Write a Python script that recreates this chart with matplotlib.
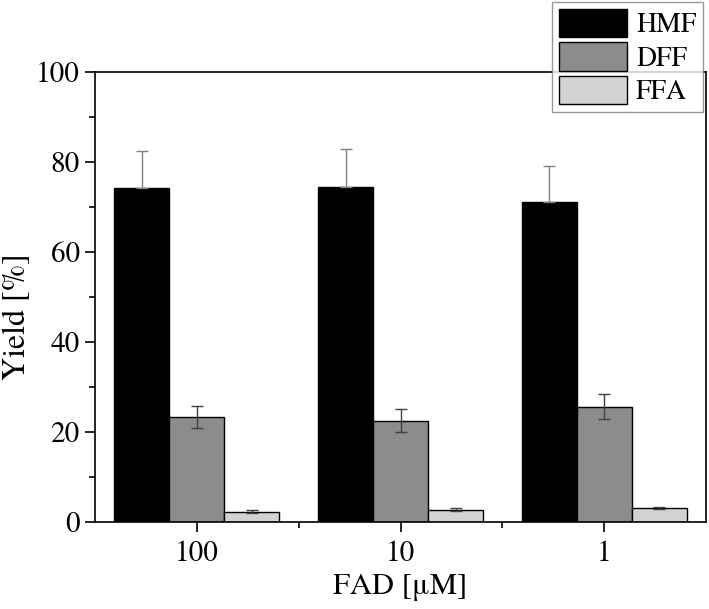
import numpy as np
import matplotlib
matplotlib.use("Agg")
import matplotlib.pyplot as plt
from matplotlib.ticker import MultipleLocator, FixedLocator

plt.rcParams["font.family"] = ["TeX Gyre Termes", "STIXGeneral", "DejaVu Serif"]

# data
concentrations = ["100", "10", "1"]
series = ["HMF", "DFF", "FFA"]
hmf = [74.2, 74.5, 71.2]
hmf_err = [8.2, 8.3, 7.9]
dff = [23.3, 22.5, 25.6]
dff_err = [2.5, 2.5, 2.8]
ffa = [2.3, 2.7, 3.1]
ffa_err = [0.3, 0.3, 0.3]

colors = ["#000000", "#8c8c8c", "#d2d2d2"]
ecolors = ["#808080", "#404040", "#404040"]

fig = plt.figure(figsize=(7.09, 6.09), dpi=100)
ax = fig.add_axes([0.134, 0.1429, 0.8618, 0.7389])

x = np.arange(len(concentrations))
w = 0.27
values = [hmf, dff, ffa]
errors = [hmf_err, dff_err, ffa_err]

for i, (name, vals, errs) in enumerate(zip(series, values, errors)):
    pos = x + (i - 1) * w
    ax.bar(pos, vals, width=w, color=colors[i], edgecolor="black",
           linewidth=1.0, label=name, zorder=2)
    # HMF bars only show the upper half of the error bar
    if i == 0:
        yerr = [np.zeros(len(errs)), errs]
    else:
        yerr = errs
    ax.errorbar(pos, vals, yerr=yerr, fmt="none", ecolor=ecolors[i],
                elinewidth=1.0, capsize=4, capthick=1.0, zorder=3)

ax.set_xlim(-0.5, 2.5)
ax.set_ylim(0, 100)
ax.set_xticks(x)
ax.set_xticklabels(concentrations)
ax.xaxis.set_minor_locator(FixedLocator([0.5, 1.5]))
ax.yaxis.set_major_locator(MultipleLocator(20))
ax.yaxis.set_minor_locator(MultipleLocator(10))

for s in ax.spines.values():
    s.set_linewidth(1.2)
ax.tick_params(which="both", direction="out", top=False, right=False,
               labelsize=21, width=1.2)
ax.tick_params(which="major", length=7)
ax.tick_params(which="minor", length=4)
ax.tick_params(axis="y", pad=4)
ax.tick_params(axis="x", pad=6)

ax.set_xlabel("FAD [μM]", fontsize=22, labelpad=4)
ax.set_ylabel("Yield [%]", fontsize=23)
ax.yaxis.set_label_coords(-0.103, 0.456)

fig.legend(loc="upper right", bbox_to_anchor=(0.992, 0.997), fontsize=20,
           frameon=True, fancybox=False, edgecolor="#808080",
           handlelength=2.45, handleheight=1.2, labelspacing=0.14,
           handletextpad=0.32, borderpad=0.25, borderaxespad=0.0)

fig.savefig("out.png", dpi=100)
